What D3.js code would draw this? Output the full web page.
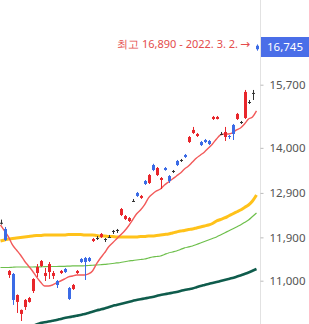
<!DOCTYPE html>
<html>
<head>
<meta charset="utf-8">
<script src="https://cdn.jsdelivr.net/npm/d3@7"></script>
<style>
  body { margin: 0; background: #fff; }
  svg { display: block; font-family: "Noto Sans", Roboto, sans-serif; }
</style>
</head>
<body>
<script>
// daily candles, oldest first (won)
var opens  = [12220,12083,11115,11135,10584,10356,10487,10584,10796,11155,11298,11095,11175,11095,10994,11155,11236,10855,10836,11155,11442,11463,11463,11822,11887,11909,11865,11909,12039,12061,12393,12303,12259,12713,12899,12783,13182,13135,13570,13326,13206,13497,13302,13424,13670,13695,13820,14149,14383,14304,14149,14201,14175,14753,14753,14357,14278,14304,14594,14753,14672,14780,15215,15467,16850];
var highs  = [12290,12127,11216,11155,10730,10440,10640,10680,11050,11338,11421,11257,11380,11196,11014,11216,11257,10875,10935,11216,11460,11484,11484,11887,11930,11995,11887,11952,12061,12083,12552,12393,12347,12759,12922,12852,13206,13350,13600,13521,13278,13521,13326,13448,13695,13720,13845,14304,14541,14383,14175,14227,14201,14834,14834,14409,14541,14330,14620,14915,14700,15551,15270,15551,16890];
var lows   = [12180,11823,11055,10527,10374,10224,10431,10570,10757,11075,11277,10994,11034,11034,10855,11135,11155,10622,10816,11135,11360,11014,11380,11800,11844,11887,11800,11887,11974,11995,12370,12281,12237,12690,12806,12760,13087,13111,13420,13302,12992,13430,13135,13375,13545,13645,13745,14123,14357,14278,14046,14123,14071,14726,14740,14330,14175,14227,14201,14726,14620,14753,15160,15270,16700];
var closes = [12220,11844,11196,10622,10718,10431,10622,10660,11034,11277,11400,11155,11338,11155,10915,11196,11175,10641,10915,11196,11380,11380,11400,11865,11887,11974,11865,11909,12039,12061,12529,12370,12325,12713,12829,12829,13111,13326,13448,13497,13254,13448,13182,13424,13570,13695,13770,14278,14462,14357,14071,14149,14097,14807,14807,14357,14409,14278,14357,14888,14672,15495,15215,15467,16745];

// moving averages, one value per candle
var maShort = [12171,12039,11909,11737,11631,11526,11400,11298,11196,11075,10974,10895,10895,10915,10955,10994,11034,11075,11095,11115,11115,11115,11135,11196,11339,11463,11568,11695,11780,11866,11952,12039,12149,12281,12416,12506,12621,12783,12876,12946,12993,13087,13159,13230,13303,13374,13472,13546,13646,13745,13820,13896,13997,14099,14227,14332,14357,14357,14384,14462,14515,14620,14753,14807,14969];
var maMid = [11823,11844,11866,11876,11887,11898,11909,11920,11931,11941,11941,11952,11952,11952,11952,11952,11952,11963,11963,11963,11963,11952,11952,11952,11941,11931,11931,11920,11920,11909,11909,11909,11909,11909,11909,11920,11920,11931,11931,11941,11952,11963,11974,11996,12018,12039,12050,12072,12083,12105,12127,12149,12171,12204,12259,12292,12326,12370,12416,12461,12506,12564,12621,12713,12852];
var maLong = [11267,11267,11267,11272,11277,11277,11277,11277,11277,11279,11281,11284,11287,11287,11287,11289,11291,11294,11298,11298,11298,11303,11308,11313,11318,11323,11329,11339,11349,11360,11370,11385,11400,11410,11421,11431,11442,11463,11484,11494,11505,11536,11568,11589,11610,11642,11674,11695,11716,11748,11780,11812,11844,11876,11909,11952,11996,12039,12083,12127,12171,12226,12281,12360,12439];
var maYear = [9912,9939,9966,9993,10021,10048,10075,10103,10131,10158,10186,10200,10214,10228,10242,10261,10280,10293,10307,10321,10336,10355,10374,10397,10421,10440,10460,10483,10507,10526,10546,10565,10584,10603,10622,10636,10651,10665,10680,10699,10719,10733,10748,10762,10777,10796,10816,10831,10846,10870,10895,10915,10935,10955,10974,10994,11014,11034,11055,11080,11105,11135,11165,11200,11236];

var tickVals = [11000, 11900, 12900, 14000, 15700];
var lastPrice = 16745;
var highNote = "최고 16,890 - 2022. 3. 2.";

var w = 309;
var h = 324;
var plotRight = 260;

var svg = d3.select("body").append("svg").attr("width", w).attr("height", h);

var xScale = d3.scaleLinear().domain([0, closes.length - 1]).range([0.5, 256.5]);
var yScale = d3.scaleLog().domain([11000, 15700]).range([280.7, 84.7]);

svg.append("defs").append("clipPath").attr("id", "plot")
  .append("rect").attr("x", -5).attr("y", 0).attr("width", plotRight + 5).attr("height", h);

var plot = svg.append("g").attr("clip-path", "url(#plot)");

//moving average lines
var maLines = [
  { data: maYear, color: "#0f5c4c", width: 2.6 },
  { data: maLong, color: "#6dbf4b", width: 1.2 },
  { data: maMid, color: "#ffc21a", width: 3 },
  { data: maShort, color: "#f25a5a", width: 1.4 },
];

var line = d3.line()
  .x(function (d, i) { return xScale(i); })
  .y(function (d) { return yScale(d); })
  .curve(d3.curveMonotoneX);

plot.selectAll(".ma")
  .data(maLines)
  .enter()
  .append("path")
  .attr("class", "ma")
  .attr("fill", "none")
  .attr("stroke", function (d) { return d.color; })
  .attr("stroke-width", function (d) { return d.width; })
  .attr("d", function (d) { return line(d.data); });

//candles
var candles = closes.map(function (c, i) {
  return { i: i, o: opens[i], h: highs[i], l: lows[i], c: c };
});

function candleColor(d) {
  if (d.c > d.o) return "#e8262b";
  if (d.c < d.o) return "#3b6be6";
  return "#333";
}

var cg = plot.selectAll(".candle")
  .data(candles)
  .enter()
  .append("g")
  .attr("class", "candle");

cg.append("line")
  .attr("x1", function (d) { return Math.round(xScale(d.i)) + 0.5; })
  .attr("x2", function (d) { return Math.round(xScale(d.i)) + 0.5; })
  .attr("y1", function (d) { return yScale(d.h); })
  .attr("y2", function (d) { return yScale(d.l); })
  .attr("stroke", candleColor)
  .attr("stroke-width", 1);

cg.append("rect")
  .attr("x", function (d) { return Math.round(xScale(d.i)) - 1; })
  .attr("width", 3)
  .attr("y", function (d) { return yScale(Math.max(d.o, d.c)); })
  .attr("height", function (d) {
    return Math.max(1, yScale(Math.min(d.o, d.c)) - yScale(Math.max(d.o, d.c)));
  })
  .attr("fill", candleColor);

//right axis
svg.append("line")
  .attr("x1", plotRight + 0.5).attr("x2", plotRight + 0.5)
  .attr("y1", 0).attr("y2", h)
  .attr("stroke", "#e2e2e2");

var yAxis = d3.axisRight(yScale)
  .tickValues(tickVals)
  .tickFormat(d3.format(","))
  .tickSize(3)
  .tickPadding(6);

var ax = svg.append("g")
  .attr("transform", "translate(" + (plotRight + 0.5) + ",0)")
  .call(yAxis);
ax.select(".domain").remove();
ax.selectAll(".tick line").attr("stroke", "#bbb");
ax.selectAll(".tick text")
  .attr("fill", "#555")
  .style("font-size", "11.5px")
  .style("font-family", "'Noto Sans', Roboto, sans-serif");

//last price tag
var yLast = 47;
svg.append("rect")
  .attr("x", plotRight + 1).attr("y", yLast - 10)
  .attr("width", w - plotRight - 1).attr("height", 20)
  .attr("fill", "#4a6ee8");
svg.append("text")
  .attr("x", 267).attr("y", yLast + 4)
  .attr("fill", "#fff")
  .style("font-size", "11.5px")
  .text(d3.format(",")(lastPrice));

//high note
svg.append("text")
  .attr("x", 238).attr("y", 48)
  .attr("text-anchor", "end")
  .attr("fill", "#e44c4c")
  .style("font-size", "11px")
  .text(highNote);
svg.append("text")
  .attr("x", 240).attr("y", 48)
  .attr("fill", "#e44c4c")
  .style("font-size", "12px")
  .style("font-family", "'DejaVu Sans', sans-serif")
  .text("→");
</script>
</body>
</html>
